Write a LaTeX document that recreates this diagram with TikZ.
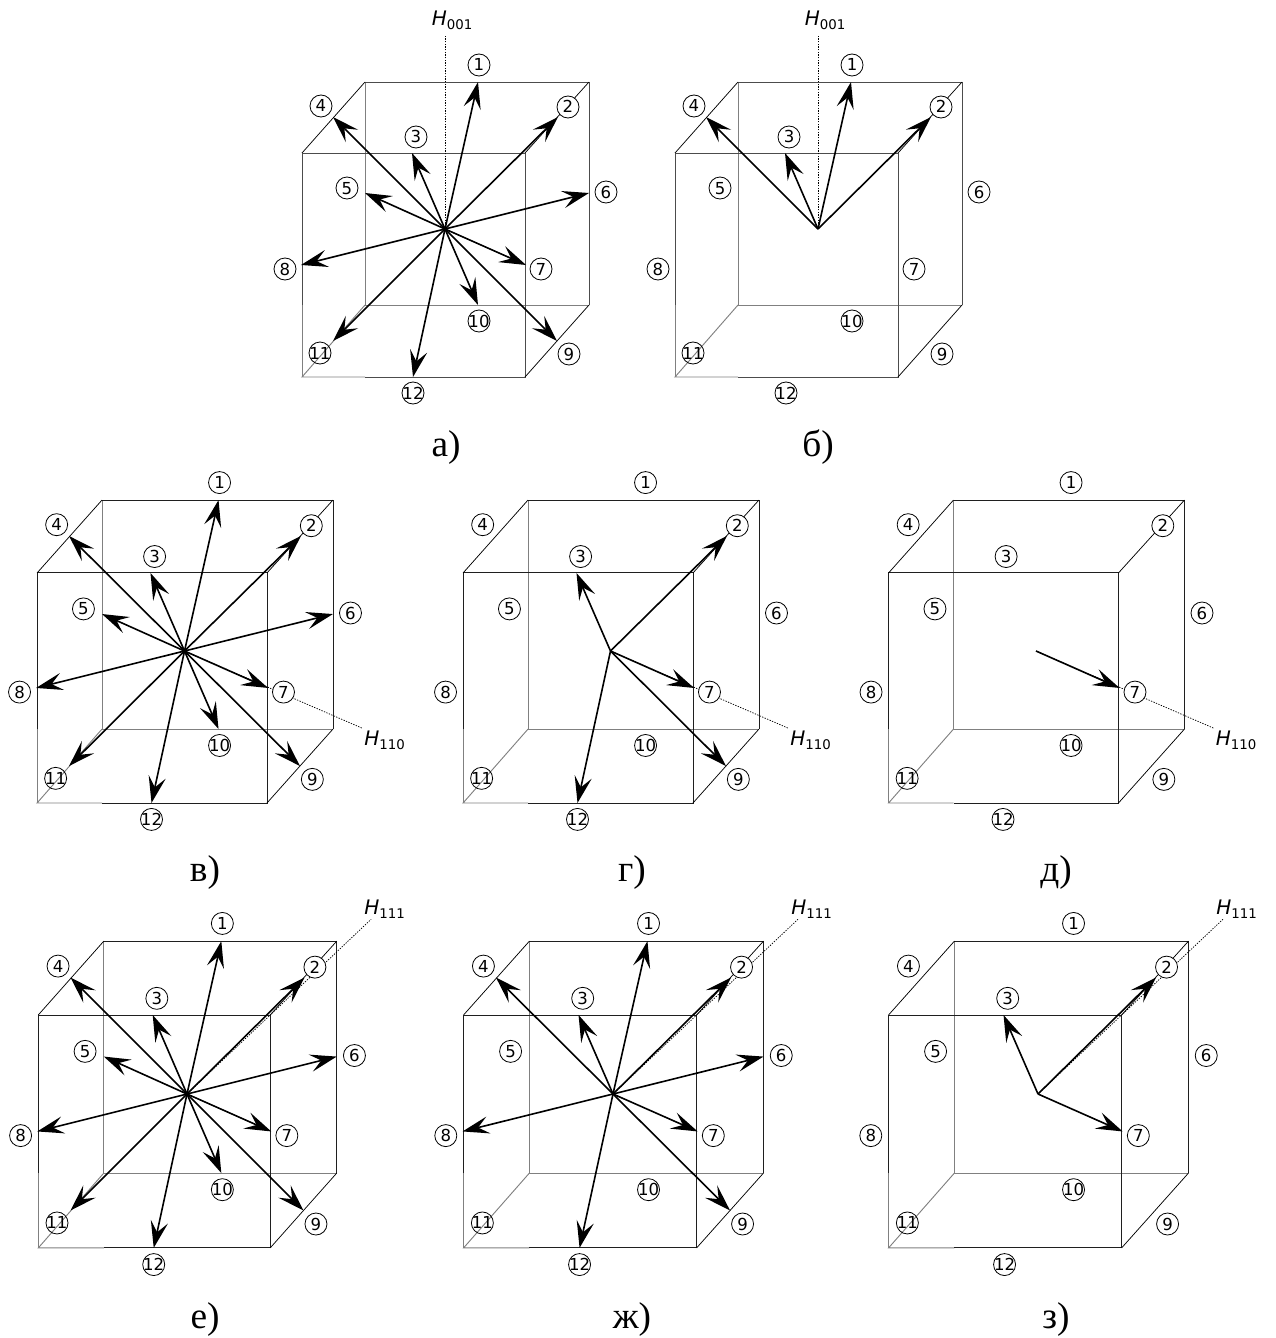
\documentclass[tikz,border=0pt]{standalone}
\usepackage{fontspec}
\setmainfont{DejaVu Sans}
\newfontfamily\capfont{Liberation Serif}
\usetikzlibrary{arrows.meta}
\newcommand\numlab[1]{\raisebox{-4.5pt}[0pt][0pt]{\makebox[0pt][c]{\fontsize{12.4pt}{13pt}\selectfont #1}}}
\newcommand\fieldlab[1]{\fontsize{15pt}{16pt}\selectfont\textit{H}\raisebox{-3pt}{\fontsize{10pt}{11pt}\selectfont #1}}
\colorlet{edgetone}{black!70}
\tikzset{
 edgedark/.style={draw=edgetone,line width=.7pt},
 edgethin/.style={draw=black,line width=.55pt},
 edgegray/.style={draw=black!50,line width=.7pt},
 vec/.style={draw=black,line width=1.2pt,-{Stealth[length=20pt,width=13pt,inset=8pt]},shorten >=0pt},
 num/.style={circle,draw=black,line width=.6pt,inner sep=0pt,minimum size=16.5pt},
 numw/.style={num,fill=white},
 field/.style={draw=black,line width=.55pt,dash pattern=on 1pt off 1pt},
 fieldtext/.style={inner sep=0pt},
 captxt/.style={inner sep=0pt,font=\capfont\fontsize{28pt}{30pt}\selectfont},
}
\newcommand\fieldline[6]{%
 \coordinate (#1e) at (#2,#3);
 \node[fieldtext] (#1h) at (#4,#5) {\fieldlab{#6}};
 \draw[field] (#1c) -- (#1e);
}
\newcommand\panel[7]{%
 \pgfmathsetmacro\xu{#4*0.75}\pgfmathsetmacro\yu{-#5*0.75}
 \begin{scope}[shift={(#2,#3)},x=\xu pt,y=\yu pt]
  \coordinate (#1c) at (0,0);
  \coordinate (#1fa) at (-143,-76); \coordinate (#1fb) at (80,-76);
  \coordinate (#1fd) at (80,148);  \coordinate (#1fe) at (-143,148);
  \coordinate (#1ff) at (-143,76); \coordinate (#1fg) at (-80,148);
  \coordinate (#1ba) at (-80,-147); \coordinate (#1bb) at (144,-147);
  \coordinate (#1bc) at (144,76);  \coordinate (#1bd) at (-80,76);
  \draw[edgegray] (#1ba) -- (#1bd) -- (#1bc);
  \draw[edgegray] (#1bd) -- (#1fe) -- (#1fg);
  \draw[edgegray] (#1ff) -- (#1fe);
  \draw[edgedark] (#1ff) -- (#1fa) -- (#1fb) -- (#1fd) -- (#1fg);
  \draw[edgedark] (#1ba) -- (#1bb) -- (#1bc);
  \draw[edgethin] (#1fa) -- (#1ba);
  \draw[edgethin] (#1fb) -- (#1bb);
  \draw[edgethin] (#1fd) -- (#1bc);
  \foreach \n/\x/\y in {1/33/-147,2/113/-112,3/-33/-76,4/-112/-112,5/-80/-36,6/144/-36,7/81/36,8/-144/36,9/112/112,10/33/76,11/-112/112,12/-32/148}
   {\coordinate (#1t\n) at (\x,\y);}
  #7
  \foreach \n in {#6} {\draw[vec] (#1c) -- (#1t\n);}
  \foreach \n/\x/\y in {1/34/-164,3/-29/-92,4/-124/-123,5/-98/-41,6/161/-37,8/-160/40,9/124/125,10/34/92,11/-125/124,12/-32/164}
   {\node[num] (#1n\n) at (\x,\y) {\numlab{\n}};}
  \foreach \n/\x/\y in {2/123/-122,7/96/40}
   {\node[numw] (#1n\n) at (\x,\y) {\numlab{\n}};}
 \end{scope}
}
\begin{document}
\begin{tikzpicture}[x=.75pt,y=-.75pt]
\useasboundingbox (0,0) rectangle (1275,1338);
\panel{a}{445}{229}{1}{1}{1,2,3,4,5,6,7,8,9,10,11,12}{\fieldline{a}{0}{-194}{7}{-209}{001}}
\panel{b}{818}{229}{1}{1}{1,2,3,4}{\fieldline{b}{0}{-194}{7}{-209}{001}}
\colorlet{edgetone}{black!88}
\panel{c}{184.5}{651}{1.031}{1.027}{1,2,3,4,5,6,7,8,9,10,11,12}{\fieldline{c}{172}{75}{194}{87}{110}}
\panel{d}{610.5}{651}{1.031}{1.027}{2,3,7,9,12}{\fieldline{d}{172}{75}{194}{87}{110}}
\panel{e}{1036}{651}{1.031}{1.027}{7}{\fieldline{e}{172}{75}{194}{87}{110}}
\panel{f}{187}{1094}{1.04}{1.04}{1,2,3,4,5,6,7,8,9,10,11,12}{\fieldline{f}{177}{-168}{190}{-178}{111}}
\panel{g}{613}{1094}{1.045}{1.04}{1,2,3,4,6,7,8,9,12}{\fieldline{g}{177}{-168}{190}{-178}{111}}
\panel{h}{1038}{1094}{1.045}{1.04}{2,3,7}{\fieldline{h}{177}{-168}{190}{-178}{111}}
\node[captxt] (capa) at (446,447.5) {а)};
\node[captxt] (capb) at (818,447.5) {б)};
\node[captxt] (capc) at (205,873) {в)};
\node[captxt] (capd) at (632,873) {г)};
\node[captxt] (cape) at (1056,873) {д)};
\node[captxt] (capf) at (205,1320) {е)};
\node[captxt] (capg) at (632,1320) {ж)};
\node[captxt] (caph) at (1056,1320) {з)};
\end{tikzpicture}
\end{document}
